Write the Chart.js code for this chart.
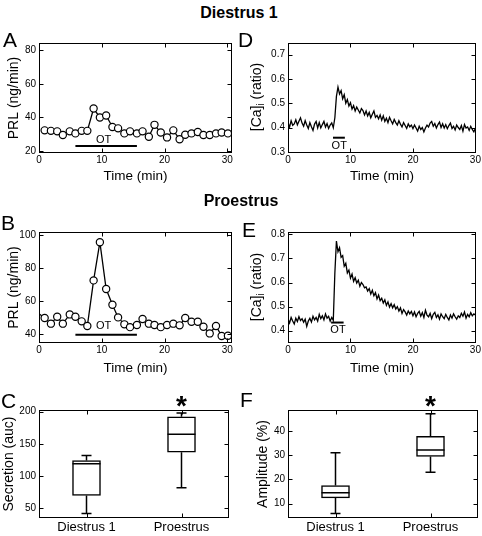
<!DOCTYPE html>
<html>
<head>
<meta charset="utf-8">
<script src="https://cdn.jsdelivr.net/npm/chart.js@4.4.0/dist/chart.umd.min.js"></script>
<style>
  html, body { margin: 0; padding: 0; background: #fff; overflow: hidden; }
  #fig { position: relative; width: 482px; height: 536px; font-family: "Liberation Sans", Arial, Helvetica, sans-serif; color: #000; }
  #fig canvas { position: absolute; }
  .txt { position: absolute; line-height: 1; white-space: nowrap; }
  .head { font-weight: bold; font-size: 16px; transform: translateX(-50%); }
  .letter { font-size: 21px; }
  .ylab { font-size: 14px; transform: translate(-50%, -50%) rotate(-90deg); }
  .ylab sub { font-size: 10px; vertical-align: -3px; }
</style>
</head>
<body>
<div id="fig">
  <canvas id="chartA"></canvas>
  <canvas id="chartD"></canvas>
  <canvas id="chartB"></canvas>
  <canvas id="chartE"></canvas>
  <canvas id="chartC"></canvas>
  <canvas id="chartF"></canvas>

  <div class="txt head" style="left:239px; top:5px;">Diestrus 1</div>
  <div class="txt head" style="left:241px; top:193px;">Proestrus</div>

  <div class="txt letter" style="left:3px; top:29px;">A</div>
  <div class="txt letter" style="left:238px; top:29px;">D</div>
  <div class="txt letter" style="left:1px; top:212px;">B</div>
  <div class="txt letter" style="left:242px; top:219px;">E</div>
  <div class="txt letter" style="left:1px; top:390px;">C</div>
  <div class="txt letter" style="left:240px; top:389px;">F</div>

  <div class="txt ylab" style="left:257px; top:97px;">[Ca]<sub>i</sub> (ratio)</div>
  <div class="txt ylab" style="left:257px; top:287px;">[Ca]<sub>i</sub> (ratio)</div>
</div>

<script>
// --- PRL secretion (panels A, B), one sample per minute ---
const prlTimeDiestrus = [0.9, 1.9, 2.9, 3.8, 4.9, 5.8, 6.8, 7.7, 8.7, 9.7, 10.7, 11.7, 12.6, 13.6, 14.5, 15.6,
                         16.5, 17.5, 18.4, 19.4, 20.4, 21.4, 22.4, 23.3, 24.3, 25.3, 26.2, 27.2, 28.2, 29.1, 30.1];
const prlDiestrus = [32.3, 32.0, 31.7, 29.5, 31.7, 30.5, 32.0, 32.0, 45.3, 40.0, 41.2, 34.3, 33.5, 30.5, 31.7, 30.5,
                     31.7, 28.5, 35.6, 31.0, 28.1, 32.3, 27.0, 29.7, 30.5, 31.3, 29.5, 29.5, 30.5, 31.0, 30.5];

const prlTimeProestrus = [0.0, 0.9, 1.9, 2.9, 3.8, 4.9, 5.8, 6.8, 7.7, 8.7, 9.7, 10.7, 11.7, 12.6, 13.6, 14.5, 15.6,
                          16.5, 17.5, 18.4, 19.4, 20.4, 21.4, 22.4, 23.3, 24.3, 25.3, 26.2, 27.2, 28.2, 29.1, 30.1];
const prlProestrus = [52.5, 49.9, 46.5, 50.7, 46.5, 52.1, 50.7, 47.9, 45.1, 72.7, 95.8, 67.5, 58.0, 50.3, 46.1, 44.4, 45.7,
                      49.3, 46.5, 45.7, 44.4, 45.7, 46.5, 45.5, 49.9, 47.7, 47.7, 44.6, 40.6, 45.1, 39.0, 39.2];

// --- [Ca]i traces (panels D, E), sampled every caStep minutes from t = 0 ---
const caStep = 0.25;
const caDiestrus = [
  0.418, 0.402, 0.428, 0.409, 0.415, 0.432, 0.411, 0.426, 0.440, 0.418,
  0.405, 0.428, 0.410, 0.396, 0.420, 0.403, 0.388, 0.414, 0.425, 0.398,
  0.420, 0.398, 0.412, 0.425, 0.402, 0.416, 0.396, 0.410, 0.419, 0.399,
  0.440, 0.528, 0.566, 0.538, 0.552, 0.518, 0.535, 0.500, 0.515, 0.488,
  0.502, 0.476, 0.490, 0.468, 0.484, 0.472, 0.460, 0.478, 0.470, 0.452,
  0.468, 0.448, 0.462, 0.440, 0.455, 0.468, 0.442, 0.450, 0.436, 0.452,
  0.430, 0.448, 0.425, 0.438, 0.420, 0.442, 0.428, 0.415, 0.433, 0.420,
  0.410, 0.428, 0.414, 0.402, 0.420, 0.408, 0.396, 0.415, 0.403, 0.410,
  0.395, 0.410, 0.398, 0.385, 0.405, 0.392, 0.400, 0.382, 0.398, 0.410,
  0.402, 0.418, 0.425, 0.405, 0.416, 0.398, 0.412, 0.422, 0.400, 0.415,
  0.398, 0.412, 0.395, 0.408, 0.418, 0.396, 0.405, 0.390, 0.410, 0.400,
  0.392, 0.408, 0.385, 0.412, 0.398, 0.402, 0.388, 0.405, 0.392, 0.382,
  0.398
];
const caProestrus = [
  0.448, 0.432, 0.455, 0.440, 0.428, 0.452, 0.438, 0.458, 0.442, 0.450,
  0.435, 0.448, 0.418, 0.440, 0.452, 0.436, 0.460, 0.445, 0.455, 0.440,
  0.468, 0.450, 0.462, 0.445, 0.470, 0.452, 0.460, 0.440, 0.455, 0.443,
  0.640, 0.772, 0.728, 0.745, 0.705, 0.712, 0.668, 0.680, 0.640, 0.652,
  0.618, 0.635, 0.605, 0.620, 0.598, 0.610, 0.585, 0.600, 0.592, 0.578,
  0.582, 0.565, 0.575, 0.552, 0.568, 0.545, 0.558, 0.532, 0.548, 0.525,
  0.535, 0.515, 0.528, 0.505, 0.520, 0.498, 0.512, 0.495, 0.508, 0.490,
  0.500, 0.482, 0.495, 0.472, 0.488, 0.478, 0.465, 0.482, 0.470, 0.480,
  0.462, 0.478, 0.458, 0.472, 0.480, 0.460, 0.475, 0.455, 0.485, 0.465,
  0.458, 0.472, 0.450, 0.468, 0.476, 0.455, 0.466, 0.448, 0.470, 0.458,
  0.450, 0.468, 0.455, 0.445, 0.465, 0.452, 0.470, 0.458, 0.448, 0.462,
  0.455, 0.472, 0.460, 0.478, 0.452, 0.468, 0.458, 0.475, 0.462, 0.470,
  0.465
];

// OT application windows (min)
const otPrl = [5.8, 15.6];
const otCaDiestrus = [7.2, 9.1];
const otCaProestrus = [6.9, 8.9];

// --- box plots (panels C, F) ---
const groups = ['Diestrus 1', 'Proestrus'];
const secLow = [42, 82];
const secQ1 = [70, 137];
const secMed = [119, 165];
const secQ3 = [124, 192];
const secHigh = [132, 198];
const ampLow = [6, 23];
const ampQ1 = [12.4, 29.5];
const ampMed = [14.5, 32.2];
const ampQ3 = [17.5, 37.8];
const ampHigh = [31, 47.1];
const significant = [2]; // asterisk over Proestrus

// --- tick values ---
const timeTicks = [0, 10, 20, 30];
const prlTicksA = [20, 40, 60, 80];
const prlTicksB = [40, 60, 80, 100];
const caTicksD = [0.3, 0.4, 0.5, 0.6, 0.7];
const caTicksE = [0.4, 0.5, 0.6, 0.7, 0.8];
const secTicks = [50, 100, 150, 200];
const ampTicks = [10, 20, 30, 40];
const groupTicks = [1, 2];

// --- Chart.js setup ---
const FONT = '"Liberation Sans", Arial, Helvetica, sans-serif';
const INK = '#000';
Chart.defaults.font.family = FONT;
Chart.defaults.color = INK;
Chart.defaults.animation = false;

// extra things each canvas draws on top of its datasets
const notes = {};
const boxStats = {};

// MATLAB style frame: full box with inward ticks on all four sides
const framePlugin = {
  id: 'frame',
  afterDraw(chart) {
    const { ctx, chartArea: a, scales: { x, y } } = chart;
    const L = Math.round(a.left) + 0.5, R = Math.round(a.right) - 0.5;
    const T = Math.round(a.top) + 0.5, B = Math.round(a.bottom) - 0.5;
    ctx.save();
    ctx.strokeStyle = INK;
    ctx.lineWidth = 1;
    ctx.strokeRect(L, T, R - L, B - T);
    ctx.beginPath();
    x.ticks.forEach(t => {
      const px = Math.round(x.getPixelForValue(t.value)) + 0.5;
      ctx.moveTo(px, B); ctx.lineTo(px, B - 4);
      ctx.moveTo(px, T); ctx.lineTo(px, T + 4);
    });
    y.ticks.forEach(t => {
      const py = Math.round(y.getPixelForValue(t.value)) + 0.5;
      ctx.moveTo(L, py); ctx.lineTo(L + 4, py);
      ctx.moveTo(R, py); ctx.lineTo(R - 4, py);
    });
    ctx.stroke();
    ctx.restore();
  }
};

// "OT" labels and significance asterisks
const notesPlugin = {
  id: 'notes',
  afterDatasetsDraw(chart) {
    const n = notes[chart.canvas.id];
    if (!n) return;
    const { ctx, chartArea, scales: { x, y } } = chart;
    ctx.save();
    ctx.fillStyle = INK;
    ctx.textAlign = 'center';
    (n.texts || []).forEach(t => {
      ctx.font = '11px ' + FONT;
      ctx.textBaseline = 'middle';
      ctx.fillText(t.text, x.getPixelForValue(t.x), y.getPixelForValue(t.y));
    });
    (n.stars || []).forEach(s => {
      ctx.font = 'bold 28px ' + FONT;
      ctx.textBaseline = 'alphabetic';
      ctx.fillText('*', x.getPixelForValue(s), chartArea.top + 5);
    });
    ctx.restore();
  }
};

// whiskers, caps and medians for the box plots
const whiskerPlugin = {
  id: 'whiskers',
  afterDatasetsDraw(chart) {
    const b = boxStats[chart.canvas.id];
    if (!b) return;
    const { ctx, scales: { x, y } } = chart;
    ctx.save();
    ctx.strokeStyle = INK;
    ctx.lineWidth = 1.5;
    ctx.beginPath();
    b.med.forEach((m, i) => {
      const px = x.getPixelForValue(i + 1);
      const yHi = y.getPixelForValue(b.hi[i]), yQ3 = y.getPixelForValue(b.q3[i]);
      const yLo = y.getPixelForValue(b.lo[i]), yQ1 = y.getPixelForValue(b.q1[i]);
      const yMed = y.getPixelForValue(m);
      ctx.moveTo(px, yQ3); ctx.lineTo(px, yHi);
      ctx.moveTo(px - 5, yHi); ctx.lineTo(px + 5, yHi);
      ctx.moveTo(px, yQ1); ctx.lineTo(px, yLo);
      ctx.moveTo(px - 5, yLo); ctx.lineTo(px + 5, yLo);
      ctx.moveTo(px - 14, yMed); ctx.lineTo(px + 14, yMed);
    });
    ctx.stroke();
    ctx.restore();
  }
};

function placeCanvas(id, box) {
  const c = document.getElementById(id);
  c.width = box[2];
  c.height = box[3];
  c.style.left = box[0] + 'px';
  c.style.top = box[1] + 'px';
  return c;
}

// padding that puts the plot area exactly where the reference has it
function padFor(box, area) {
  return { left: 0, top: area[1] - box[1], right: box[0] + box[2] - area[2], bottom: 0 };
}

function scaleCfg(o) {
  return {
    type: 'linear',
    min: o.min,
    max: o.max,
    bounds: 'data',
    offset: false,
    afterFit: s => { if (o.horizontal) s.height = o.size; else s.width = o.size; },
    afterBuildTicks: s => { s.ticks = o.ticks.map(v => ({ value: v })); },
    grid: { display: false, drawTicks: false },
    border: { display: false },
    ticks: {
      font: { size: o.tickSize || 10 },
      padding: o.tickPad,
      maxRotation: 0,
      autoSkip: false,
      callback: o.labels ? ((v, i) => o.labels[i]) : (v => String(v))
    },
    title: o.title
      ? { display: true, text: o.title, font: { size: o.titleSize || 14 },
          padding: o.horizontal ? { top: 0, bottom: o.titlePad } : { top: o.titlePad, bottom: 0 } }
      : { display: false }
  };
}

function timeChart(id, box, area, c) {
  const canvas = placeCanvas(id, box);
  const main = {
    data: c.t.map((t, i) => ({ x: t, y: c.v[i] })),
    borderColor: INK,
    borderWidth: c.lineW,
    pointRadius: c.radius,
    pointBackgroundColor: '#fff',
    pointBorderColor: INK,
    pointBorderWidth: 1.2,
    tension: 0
  };
  const otBar = {
    data: [{ x: c.ot[0], y: c.otLevel }, { x: c.ot[1], y: c.otLevel }],
    borderColor: INK,
    borderWidth: 2,
    pointRadius: 0
  };
  notes[id] = { texts: [{ x: c.otText[0], y: c.otText[1], text: 'OT' }] };
  new Chart(canvas, {
    type: 'line',
    data: { datasets: [main, otBar] },
    options: {
      responsive: false,
      layout: { padding: padFor(box, area) },
      plugins: { legend: { display: false }, tooltip: { enabled: false } },
      scales: {
        x: scaleCfg({ horizontal: true, min: c.xMin, max: c.xMax, ticks: timeTicks, size: box[1] + box[3] - area[3],
                      tickPad: 1, title: 'Time (min)', titleSize: 13.5, titlePad: c.xTitlePad }),
        y: scaleCfg({ min: c.yMin, max: c.yMax, ticks: c.yTicks, size: area[0] - box[0], tickPad: 3,
                      title: c.yTitle, titlePad: c.yTitlePad })
      }
    },
    plugins: [framePlugin, notesPlugin]
  });
}

function boxChart(id, box, area, c) {
  const canvas = placeCanvas(id, box);
  boxStats[id] = { lo: c.lo, q1: c.q1, med: c.med, q3: c.q3, hi: c.hi };
  notes[id] = { stars: significant };
  new Chart(canvas, {
    type: 'bar',
    data: {
      datasets: [{
        data: groups.map((g, i) => ({ x: i + 1, y: [c.q1[i], c.q3[i]] })),
        backgroundColor: '#fff',
        borderColor: INK,
        borderWidth: 1.5,
        borderSkipped: false,
        barThickness: 28
      }]
    },
    options: {
      responsive: false,
      layout: { padding: padFor(box, area) },
      plugins: { legend: { display: false }, tooltip: { enabled: false } },
      scales: {
        x: scaleCfg({ horizontal: true, min: 0.5, max: 2.5, ticks: groupTicks, labels: groups,
                      size: box[1] + box[3] - area[3], tickPad: 2, tickSize: 13 }),
        y: scaleCfg({ min: c.yMin, max: c.yMax, ticks: c.yTicks, size: area[0] - box[0], tickPad: 3,
                      title: c.yTitle, titlePad: c.yTitlePad })
      }
    },
    plugins: [framePlugin, whiskerPlugin, notesPlugin]
  });
}

// --- build panels: canvas box [left, top, w, h], plot area [left, top, right, bottom] ---
timeChart('chartA', [0, 30, 240, 160], [39, 43, 232, 153], {
  t: prlTimeDiestrus, v: prlDiestrus, lineW: 1.3, radius: 3.6,
  ot: otPrl, otLevel: 23, otText: [10.3, 26.7],
  xMin: 0, xMax: 30.75, yMin: 18.8, yMax: 84.4, yTicks: prlTicksA,
  yTitle: 'PRL (ng/min)', yTitlePad: 6, xTitlePad: 6
});

timeChart('chartB', [0, 200, 240, 180], [39, 232, 232, 343], {
  t: prlTimeProestrus, v: prlProestrus, lineW: 1.3,
  radius: prlProestrus.map((v, i) => (i === 0 ? 0 : 3.6)),
  ot: otPrl, otLevel: 39.8, otText: [10.3, 45],
  xMin: 0, xMax: 30.75, yMin: 34.8, yMax: 102, yTicks: prlTicksB,
  yTitle: 'PRL (ng/min)', yTitlePad: 6, xTitlePad: 3.4
});

timeChart('chartD', [240, 30, 242, 160], [288, 43, 477, 153], {
  t: caDiestrus.map((v, i) => i * caStep), v: caDiestrus, lineW: 1.3, radius: 0,
  ot: otCaDiestrus, otLevel: 0.358, otText: [8.2, 0.326],
  xMin: 0, xMax: 30.1, yMin: 0.295, yMax: 0.748, yTicks: caTicksD,
  yTitle: null, xTitlePad: 6
});

timeChart('chartE', [240, 200, 242, 180], [288, 232, 477, 343], {
  t: caProestrus.map((v, i) => i * caStep), v: caProestrus, lineW: 1.3, radius: 0,
  ot: otCaProestrus, otLevel: 0.434, otText: [8.0, 0.402],
  xMin: 0, xMax: 30.1, yMin: 0.349, yMax: 0.81, yTicks: caTicksE,
  yTitle: null, xTitlePad: 3.4
});

boxChart('chartC', [0, 385, 240, 151], [39, 410, 229, 518], {
  lo: secLow, q1: secQ1, med: secMed, q3: secQ3, hi: secHigh,
  yMin: 35, yMax: 202.5, yTicks: secTicks, yTitle: 'Secretion (auc)', yTitlePad: 0.6
});

boxChart('chartF', [240, 385, 242, 151], [288, 410, 478, 518], {
  lo: ampLow, q1: ampQ1, med: ampMed, q3: ampQ3, hi: ampHigh,
  yMin: 4.1, yMax: 48.7, yTicks: ampTicks, yTitle: 'Amplitude (%)', yTitlePad: 14.5
});
</script>
</body>
</html>
